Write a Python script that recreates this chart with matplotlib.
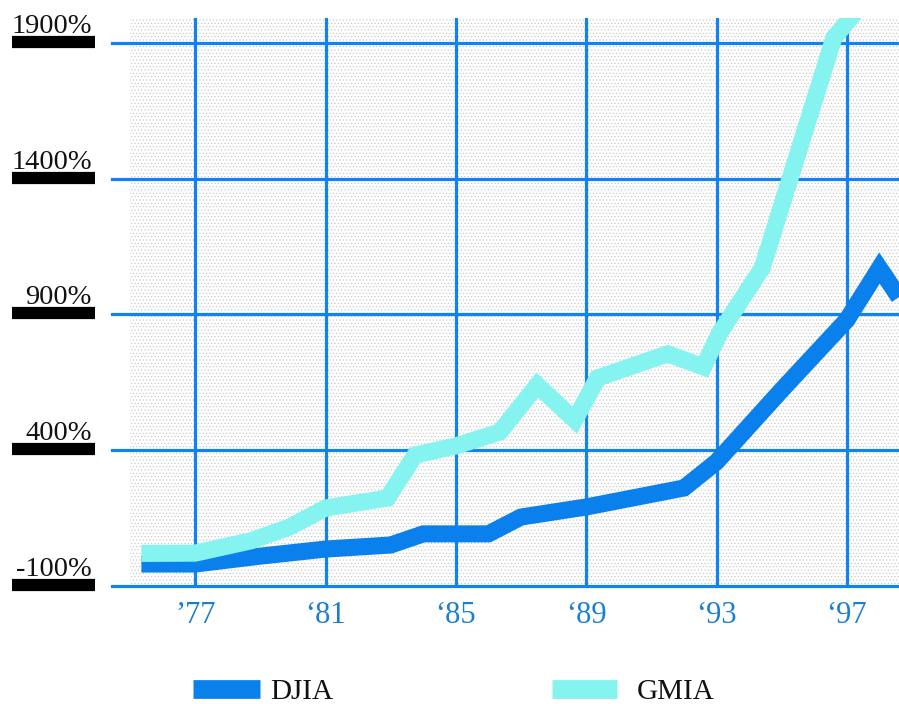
import matplotlib
matplotlib.use("Agg")
import matplotlib.pyplot as plt
import matplotlib.transforms as mtransforms
from matplotlib.patches import Rectangle
from matplotlib.lines import Line2D

# cumulative return
djia_years = [1975.35, 1977, 1979, 1981, 1983, 1984, 1986, 1987, 1989, 1992, 1993, 1995, 1997, 1998, 1998.6]
djia_pct = [-19, -19, 10, 36, 51, 92, 92, 154, 191, 261, 357, 622, 880, 1071, 964]

gmia_years = [1975.35, 1977, 1978.7, 1979.9, 1981, 1982.9, 1983.75, 1985, 1986.35, 1987.5,
              1988.65, 1989.35, 1991.5, 1992.6, 1993.1, 1994.4, 1996.6, 1997.7]
gmia_pct = [20, 21, 66, 117, 187, 224, 382, 416, 467, 640,
            511, 666, 755, 707, 832, 1071, 1918, 2077]

y_ticks = [-100, 400, 900, 1400, 1900]
y_labels = ["-100%", "400%", "900%", "1400%", "1900%"]
x_ticks = [1977, 1981, 1985, 1989, 1993, 1997]
x_labels = ["’77", "‘81", "‘85", "‘89", "‘93", "‘97"]
series_names = ["DJIA", "GMIA"]

GRID_BLUE = "#1183f0"
DJIA_BLUE = "#0a80ec"
GMIA_CYAN = "#85f3ef"
SERIF = ["Liberation Serif", "DejaVu Serif"]

plt.rcParams["hatch.linewidth"] = 0.35

fig = plt.figure(figsize=(8.99, 7.04), dpi=100)
ax = fig.add_axes([130 / 899, 118 / 704, 769 / 899, 568 / 704])
ax.set_xlim(1975.0, 1998.6)
ax.set_ylim(-100, 1992)

# dotted paper background
bg = Rectangle((0, 0), 1, 1, transform=ax.transAxes, facecolor="white",
               edgecolor="#bdbdbd", hatch=".....", lw=0, zorder=0)
ax.add_patch(bg)

for s in ax.spines.values():
    s.set_visible(False)

# grid
for yv in y_ticks:
    ax.axhline(yv, xmin=-0.0234, xmax=1, color=GRID_BLUE, lw=2.3, clip_on=False, zorder=1)
for xv in x_ticks:
    ax.axvline(xv, color=GRID_BLUE, lw=2.3, zorder=1)

# data lines
ax.plot(djia_years, djia_pct, color=DJIA_BLUE, lw=12.3, solid_joinstyle="miter",
        solid_capstyle="butt", zorder=3)
ax.plot(gmia_years, gmia_pct, color=GMIA_CYAN, lw=12.3, solid_joinstyle="miter",
        solid_capstyle="butt", zorder=4)

# y labels sitting on black bars
ax.set_yticks([])
trans = mtransforms.blended_transform_factory(fig.transFigure, ax.transData)
px = (1992 + 100) / 568  # data units per pixel
for yv, lab in zip(y_ticks, y_labels):
    ax.plot([12 / 899, 95 / 899], [yv + px, yv + px], color="black", lw=8.8,
            solid_capstyle="butt", transform=trans, clip_on=False)
    ax.text(92 / 899, yv + 10 * px, lab, transform=trans, ha="right", va="baseline",
            fontsize=20.5, family=SERIF, color="#111111")

# x labels
ax.set_xticks(x_ticks)
ax.set_xticklabels(x_labels, family=SERIF, fontsize=22, color="#1a7fd0")
ax.tick_params(axis="x", length=0, pad=11)

# legend, laid out by hand
H = 704
for (x0, x1, xt), name, col in zip([(193, 260, 270), (552, 617, 637)], series_names,
                                   [DJIA_BLUE, GMIA_CYAN]):
    fig.add_artist(Line2D([x0 / 899, x1 / 899], [(H - 689) / H] * 2, color=col, lw=13.5,
                          solid_capstyle="butt", transform=fig.transFigure))
    fig.text(xt / 899, (H - 689) / H, name, ha="left", va="center_baseline",
             fontsize=21, family=SERIF, color="#111111")

fig.savefig("out.png", dpi=100)
